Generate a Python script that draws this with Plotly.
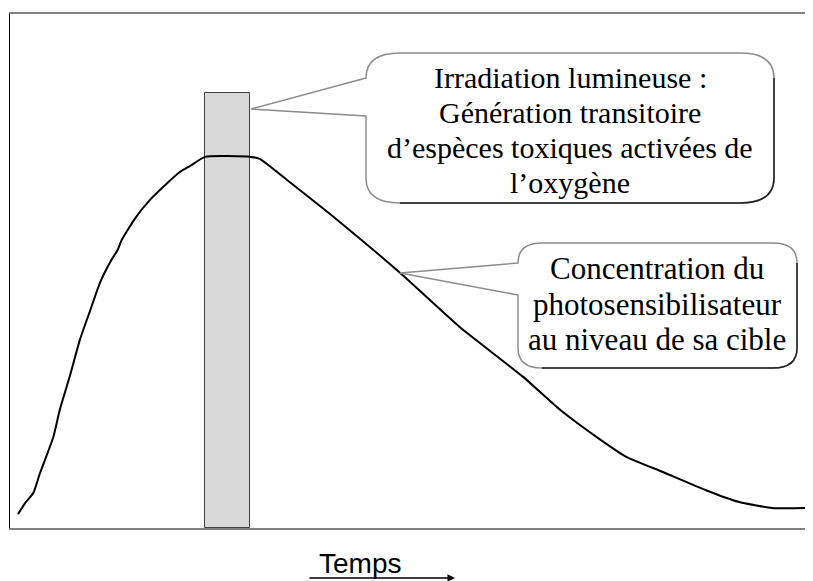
import plotly.graph_objects as go

# ---- data (time in arbitrary units 0-100, concentration in % of axis) ----
time = [1.0, 1.9, 2.9, 3.7, 5.4, 6.2, 7.5, 8.7, 10.0, 11.2, 12.5, 13.4, 13.9, 15.6,
        17.4, 19.3, 21.2, 22.4, 24.3,
        30.0, 31.1, 34.5, 41.1, 48.6, 56.0, 63.9, 68.5, 73.6, 76.8, 81.3, 86.6,
        90.7, 94.9, 100.0]
concentration = [2.7, 4.9, 6.8, 10.5, 17.7, 23.0, 29.8, 36.6, 42.4, 47.7, 51.8, 54.1,
                 56.0, 60.3, 63.8, 66.7, 69.3, 70.4, 72.2,
                 72.2, 71.8, 67.7, 59.5, 49.6, 39.1, 29.4, 23.0, 17.1, 13.8, 10.9,
                 7.4, 5.1, 3.9, 3.9]

irradiation_start = 24.3
irradiation_end = 29.9
irradiation_level = 84.6

callout1_lines = ["Irradiation lumineuse :", "Génération transitoire",
                  "d\u2019espèces toxiques activées de", "l\u2019oxygène"]
callout2_lines = ["Concentration du", "photosensibilisateur", "au niveau de sa cible"]
xlabel = "Temps"

# ---- geometry helpers (page pixel -> data); the page body has an 8px margin ----
OFF = 8
W, H = 813 - OFF, 581 - OFF
L_PX, T_PX, B_PX, R_PX = 10, 14, 528, 813
SX = (R_PX - L_PX) / 100.0
SY = (B_PX - T_PX) / 100.0


def d(px, py):
    return (px - L_PX) / SX, (B_PX - py) / SY


def pp(px, py):
    return (px - L_PX) / (R_PX - L_PX), (B_PX - py) / (B_PX - T_PX)


def pt(px, py):
    x, y = d(px, py)
    return f"{x:.3f},{y:.3f}"


def callout_paths(left, top, right, bottom, rx, ry, tip, base_top, base_bot):
    gray = (f"M {pt(left, base_top)} L {pt(*tip)} L {pt(left, base_bot)} "
            f"L {pt(left, bottom - ry)} Q {pt(left, bottom)} {pt(left + rx, bottom)} "
            f"L {pt(right - rx, bottom)} Q {pt(right, bottom)} {pt(right, bottom - ry)} "
            f"L {pt(right, top + ry)} Q {pt(right, top)} {pt(right - rx, top)} "
            f"L {pt(left + rx, top)} Q {pt(left, top)} {pt(left, top + ry)} Z")
    dark = (f"M {pt(left + rx, bottom)} L {pt(right - rx, bottom)} "
            f"Q {pt(right, bottom)} {pt(right, bottom - ry)} L {pt(right, top + ry)}")
    return gray, dark


fig = go.Figure()

fig.add_trace(go.Scatter(
    x=time, y=concentration, mode="lines",
    line=dict(color="black", width=2, shape="spline", smoothing=0.5),
    hoverinfo="skip", showlegend=False))

fig.add_trace(go.Bar(
    x=[(irradiation_start + irradiation_end) / 2], y=[irradiation_level],
    width=[irradiation_end - irradiation_start],
    marker=dict(color="#d9d9d9", line=dict(color="#404040", width=1)),
    hoverinfo="skip", showlegend=False))

shapes = []
g1, k1 = callout_paths(366, 53, 774, 203, 34, 25, (251, 109), 78, 116)
g2, k2 = callout_paths(518, 243, 797, 368, 24, 20, (400, 273), 263, 295)
for g, k in ((g1, k1), (g2, k2)):
    shapes.append(dict(type="path", path=g, xref="x", yref="y",
                       line=dict(color="#8c8c8c", width=1.5), fillcolor="white"))
    shapes.append(dict(type="path", path=k, xref="x", yref="y",
                       line=dict(color="#202020", width=1.5)))

annotations = []
for line, py in zip(callout1_lines, [77, 112, 147, 182]):
    x, y = d(570, py)
    annotations.append(dict(x=x, y=y, xref="x", yref="y", text=line, showarrow=False,
                            font=dict(family="Liberation Serif", size=30, color="black"),
                            xanchor="center", yanchor="middle"))
for line, py in zip(callout2_lines, [268, 304, 339]):
    x, y = d(657, py)
    annotations.append(dict(x=x, y=y, xref="x", yref="y", text=line, showarrow=False,
                            font=dict(family="Liberation Serif", size=31, color="black"),
                            xanchor="center", yanchor="middle"))

# x label and arrow
lx, ly = pp(360, 563)
annotations.append(dict(x=lx, y=ly, xref="paper", yref="paper", text=xlabel,
                        showarrow=False,
                        font=dict(family="Liberation Sans", size=28, color="black"),
                        xanchor="center", yanchor="middle"))
axx, axy = pp(455, 578)
annotations.append(dict(x=axx, y=axy, xref="paper", yref="paper", text="",
                        showarrow=True, ax=-147, ay=0, arrowhead=2, arrowsize=1,
                        arrowwidth=1.5, arrowcolor="black"))

fig.update_layout(
    width=W, height=H,
    margin=dict(l=L_PX - OFF, r=813 - R_PX, t=T_PX - OFF, b=581 - B_PX),
    paper_bgcolor="white", plot_bgcolor="white",
    shapes=shapes, annotations=annotations,
    xaxis=dict(range=[0, 100], showgrid=False, zeroline=False, showticklabels=False,
               ticks="", showline=True, mirror=True, linecolor="#808080", linewidth=2,
               fixedrange=True),
    yaxis=dict(range=[0, 100], showgrid=False, zeroline=False, showticklabels=False,
               ticks="", showline=True, linecolor="black", linewidth=1,
               fixedrange=True),
    bargap=0,
)

fig.write_html("out.html")
